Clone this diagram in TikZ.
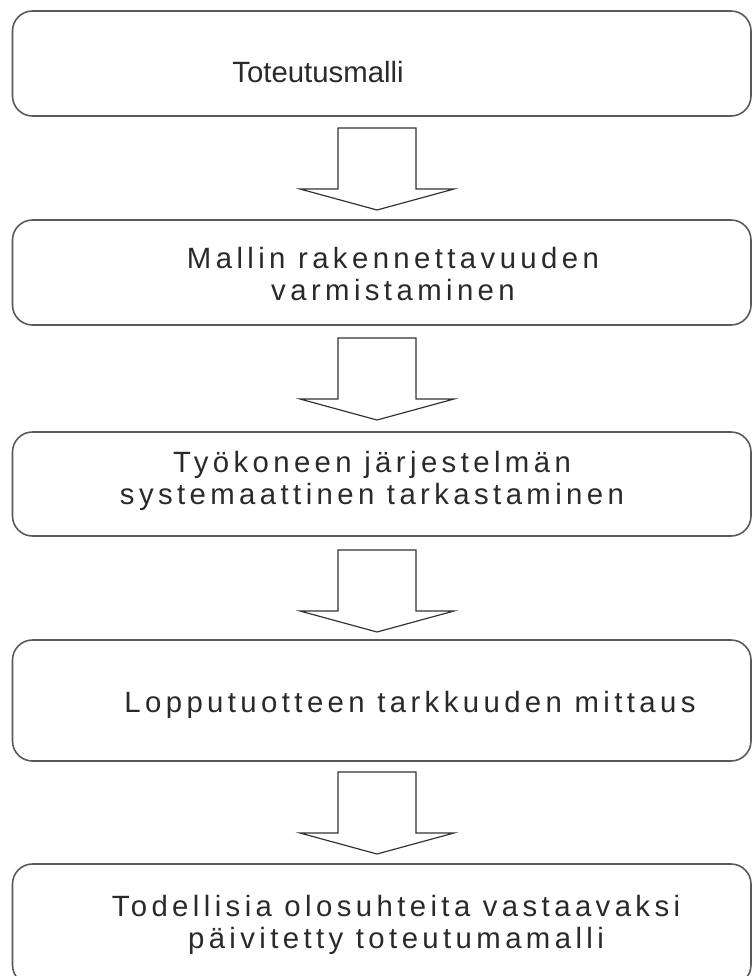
\documentclass[tikz,border=0pt]{standalone}
\usepackage{fontspec}
\usetikzlibrary{fit,calc}
\newfontfamily\flowfont{Liberation Sans}[LetterSpace=15]
\newfontfamily\flowfonttight{Liberation Sans}
\definecolor{edgegray}{HTML}{5A5A5A}
\definecolor{inkgray}{HTML}{2A2A2A}
\tikzset{
  x=0.75pt, y=-0.75pt,
  stagebox/.style={draw=edgegray, line width=1.2pt, rounded corners=15pt,
    inner sep=0pt, fill=white},
  stagetext/.style={text=inkgray, align=center, inner sep=0pt,
    font=\flowfont\fontsize{22}{24.5}\selectfont},
  blockarrow/.style={draw=black!80, line width=0.9pt, fill=white, line join=miter}
}
\begin{document}
\begin{tikzpicture}
  \useasboundingbox (0,0) rectangle (753,976);
  \clip (0,0) rectangle (753,976);

  % the five stages
  \node[stagebox, fit={(12.5,11) (751,116)}] (b1) {};
  \node[stagebox, fit={(12.5,220) (751,325)}] (b2) {};
  \node[stagebox, fit={(12.5,432) (751,536)}] (b3) {};
  \node[stagebox, fit={(12.5,640) (751,761)}] (b4) {};
  \node[stagebox, fit={(12.5,864) (751,985)}] (b5) {};

  \node[stagetext, font=\flowfonttight\fontsize{22}{24.5}\selectfont] (t1) at (318,72) {Toteutusmalli};
  \node[stagetext] (t2) at (393,274) {Mallin rakennettavuuden\\varmistaminen};
  \node[stagetext] (t3) at (372,481) {Työkoneen järjestelmän\\systemaattinen tarkastaminen};
  \node[stagetext] (t4) at (410,705) {Lopputuotteen tarkkuuden mittaus};
  \node[stagetext] (t5) at (396,925) {Todellisia olosuhteita vastaavaksi\\päivitetty toteutumamalli};

  % block arrows between stages (top centre of each shaft)
  \coordinate (a1) at (377,128);
  \coordinate (a2) at (377,338);
  \coordinate (a3) at (377,550);
  \coordinate (a4) at (377,772);
  \foreach \a in {a1,a2,a3,a4}{
    \draw[blockarrow] ($(\a)+(-39,0)$) -- ++(0,61) -- ++(-38,0)
      -- ($(\a)+(0,82)$) -- ++(77,-21) -- ++(-38,0) -- ++(0,-61) -- cycle;
  }
\end{tikzpicture}
\end{document}
